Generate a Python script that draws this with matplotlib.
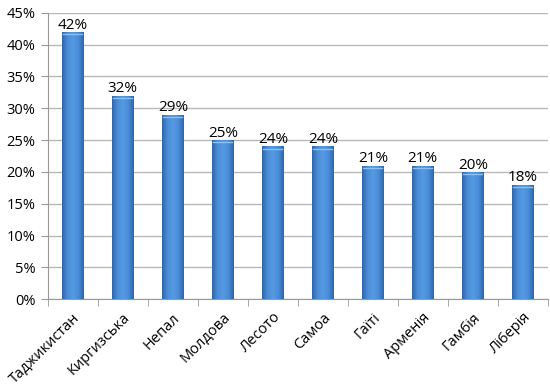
import numpy as np
import matplotlib.pyplot as plt
from matplotlib.colors import LinearSegmentedColormap
from matplotlib.ticker import FuncFormatter

plt.rcParams['font.family'] = ['Open Sans', 'DejaVu Sans']

countries = ['Таджикистан', 'Киргизська', 'Непал', 'Молдова', 'Лесото',
             'Самоа', 'Гаїті', 'Арменія', 'Гамбія', 'Ліберія']
values = [42, 32, 29, 25, 24, 24, 21, 21, 20, 18]

fig = plt.figure(figsize=(5.5, 3.9), dpi=100)
ax = fig.add_axes([0.087, 0.233, 0.909, 0.734])

x = np.arange(len(countries))
bars = ax.bar(x, values, width=0.44, color='#4a8bd6', zorder=2)

# horizontal gradient to mimic the bevelled bars
cmap = LinearSegmentedColormap.from_list('bev', ['#2f66ab', '#4a8dd8', '#559ae2', '#4a8dd8', '#2f66ab'])
grad = np.linspace(0, 1, 64).reshape(1, -1)
for b in bars:
    x0, w, h = b.get_x(), b.get_width(), b.get_height()
    im = ax.imshow(grad, cmap=cmap, aspect='auto', extent=[x0, x0 + w, 0, h], zorder=3)
    im.set_clip_path(b)
    ax.plot([x0 + 0.03, x0 + w - 0.03], [h - 0.35, h - 0.35], color='#8cc0f0', lw=1, zorder=4)

for xi, v in zip(x, values):
    ax.text(xi, v - 0.1, f'{v}%', ha='center', va='bottom', fontsize=11, zorder=5)

ax.set_xlim(-0.5, len(countries) - 0.5)
ax.set_ylim(0, 45)
ax.set_yticks(np.arange(0, 46, 5))
ax.yaxis.set_major_formatter(FuncFormatter(lambda v, p: f'{int(v)}%'))
ax.grid(axis='y', color='#b8b8b8', lw=1, zorder=0)
ax.set_axisbelow(True)

ax.set_xticks(x)
ax.set_xticklabels(countries, rotation=45, ha='right', rotation_mode='anchor', fontsize=10.5)
ax.set_xticks(np.arange(-0.5, len(countries)), minor=True)
ax.tick_params(axis='x', which='major', length=0, pad=8)
ax.tick_params(axis='x', which='minor', length=5, color='#999999')
ax.tick_params(axis='y', length=5, color='#999999', labelsize=10.5, pad=4)

for s in ['top', 'right']:
    ax.spines[s].set_visible(False)
for s in ['left', 'bottom']:
    ax.spines[s].set_color('#999999')

fig.savefig('out.png', dpi=100)
